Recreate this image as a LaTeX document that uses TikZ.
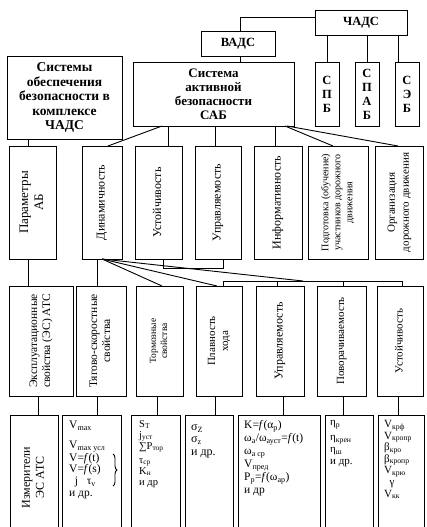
\documentclass[tikz,border=0pt]{standalone}
\usepackage{fontspec}
\setmainfont{Liberation Serif}
\usetikzlibrary{decorations.pathreplacing}
\newcommand{\dn}[1]{\textsubscript{#1}}
\newcommand{\rt}[3]{\rotatebox{90}{\fontsize{#1}{#2}\selectfont\begin{tabular}{@{}c@{}}#3\end{tabular}}}
\begin{document}
\begin{tikzpicture}[x=1pt,y=-1pt,
  box/.style={draw, line width=0.9pt, inner sep=0pt, outer sep=0pt},
  ln/.style={line width=0.9pt},
  hb/.style={font=\fontsize{12.5}{14}\selectfont\bfseries, align=center},
  cell/.style={anchor=north west, align=left, inner sep=0pt, font=\fontsize{11}{11}\selectfont}]
\useasboundingbox[fill=white] (0,0) rectangle (426,527);

% top level
\node[box, hb, minimum width=92pt, minimum height=25pt] (chads) at (361,22.5) {ЧАДС};
\node[box, hb, minimum width=74pt, minimum height=25pt] (vads) at (238,43.5) {ВАДС};
\node[box, hb, font=\fontsize{13}{14}\selectfont\bfseries, minimum width=161pt, minimum height=64pt] (sab) at (213.5,94) {Система\\активной\\безопасности\\САБ};
\node[box, hb, font=\fontsize{13.5}{14.5}\selectfont\bfseries, minimum width=115pt, minimum height=83pt] (sys) at (64.5,97.5) {Системы\\обеспечения\\безопасности в\\комплексе\\ЧАДС};
\node[box, hb, minimum width=24pt, minimum height=64pt] (spb) at (327,94) {С\\П\\Б};
\node[box, hb, minimum width=24pt, minimum height=64pt] (spab) at (367,94) {С\\П\\А\\Б};
\node[box, hb, minimum width=24pt, minimum height=64pt] (seb) at (407,94) {С\\Э\\Б};

\draw[ln] ([yshift=5.5pt]chads.west) -| ([xshift=2pt]vads.north);
\draw[ln] ([xshift=2pt]vads.south) -- ([xshift=2pt]vads.south |- sab.north);
\draw[ln] (spb.north |- chads.south) -- (spb.north);
\draw[ln] (spab.north |- chads.south) -- (spab.north);
\draw[ln] ([xshift=-9pt]seb.north |- chads.south) -- ([xshift=-9pt]seb.north);

% second row
\node[box, minimum width=47pt, minimum height=113pt] (par) at (32.5,202.5) {\rt{13}{15}{Параметры\\АБ}};
\node[box, minimum width=40pt, minimum height=113pt] (din) at (102,202.5) {\rt{12}{13}{Динамичность}};
\node[box, minimum width=47pt, minimum height=113pt] (ust) at (158.5,202.5) {\rt{12}{13}{Устойчивость}};
\node[box, minimum width=46pt, minimum height=113pt] (upr) at (218,202.5) {\rt{12}{13}{Управляемость}};
\node[box, minimum width=48pt, minimum height=113pt] (inf) at (278,202.5) {\rt{12}{13}{Информативность}};
\node[box, minimum width=60pt, minimum height=113pt] (pod) at (338,202.5) {\rt{10}{12}{Подготовка (обучение)\\участников дорожного\\движения}};
\node[box, minimum width=48pt, minimum height=113pt] (org) at (399,202.5) {\rt{11}{14}{Организация\\дорожного движения}};

\draw[ln] ([xshift=-4.5pt]par.north) -- ([xshift=-4.5pt]par.north |- sys.south);
\draw[ln] ([xshift=-51.5pt]sab.south) -- ([xshift=6pt]din.north);
\draw[ln] ([xshift=9.5pt]ust.north |- sab.south) -- ([xshift=9.5pt]ust.north);
\draw[ln] ([xshift=-3pt]upr.north |- sab.south) -- ([xshift=-3pt]upr.north);
\draw[ln] ([xshift=-3pt]inf.north |- sab.south) -- ([xshift=-3pt]inf.north);
\draw[ln] ([xshift=71.5pt]sab.south) -- ([xshift=-5pt]pod.north);
\draw[ln] ([xshift=73.5pt]sab.south) -- ([xshift=-1pt]org.north);

% third row
\node[box, minimum width=64pt, minimum height=110pt] (eks) at (41,341) {\rt{11.5}{13}{Эксплуатационные\\свойства (ЭС) АТС}};
\node[box, minimum width=50pt, minimum height=110pt] (tyag) at (101,341) {\rt{11.5}{13}{Тягово-скоростные\\свойства}};
\node[box, minimum width=47pt, minimum height=110pt] (torm) at (159.5,341) {\rt{9.5}{11}{Тормозные\\свойства}};
\node[box, minimum width=46pt, minimum height=110pt] (plav) at (219,341) {\rt{11}{13}{Плавность\\хода}};
\node[box, minimum width=48pt, minimum height=110pt] (upr3) at (280,341) {\rt{12}{13}{Управляемость}};
\node[box, minimum width=49pt, minimum height=110pt] (pov) at (341.5,341) {\rt{11}{13}{Поворачиваемость}};
\node[box, minimum width=46pt, minimum height=110pt] (ust3) at (400,341) {\rt{11}{13}{Устойчивость}};

\coordinate (brk) at (0,268);
\coordinate (busy) at (0,281);
\coordinate (busj) at (303,281);
\draw[ln] ([xshift=-4.5pt]par.south) -- ([xshift=-4.5pt]par.south |- eks.north);
\draw[ln] ([xshift=-5pt]din.south) -- ([xshift=-5pt]din.south |- tyag.north);
\draw[ln] (din.south) -- ([xshift=2.5pt]torm.north);
\draw[ln] (din.south) -- ([xshift=-2pt]plav.north);
\draw[ln] (din.south) -- (busj);
\draw[ln] ([xshift=4.5pt]ust.south) |- ([xshift=5pt]upr.south |- brk) -- ([xshift=5pt]upr.south);
\draw[ln] ([xshift=4pt]plav.north) |- ([xshift=2pt]ust3.north |- busy) -- ([xshift=2pt]ust3.north);
\draw[ln] ([xshift=-3pt]upr3.north |- busy) -- ([xshift=-3pt]upr3.north);
\draw[ln] ([xshift=1.5pt]pov.north |- busy) -- ([xshift=1.5pt]pov.north);

% fourth row
\node[box, minimum width=48pt, minimum height=125pt] (izm) at (34,477.5) {\rt{12}{14}{Измерители\\ЭС АТС}};
\node[box, minimum width=59pt, minimum height=125pt] (vb) at (91.5,477.5) {};
\node[box, minimum width=49pt, minimum height=125pt] (sb) at (155.5,477.5) {};
\node[box, minimum width=48pt, minimum height=125pt] (sig) at (209,477.5) {};
\node[box, minimum width=82pt, minimum height=125pt] (kb) at (279,477.5) {};
\node[box, minimum width=48pt, minimum height=125pt] (eta) at (349,477.5) {};
\node[box, minimum width=46pt, minimum height=125pt] (vv) at (401,477.5) {};

\draw[ln] ([xshift=-3pt]eks.south) -- ([xshift=-3pt]eks.south |- izm.north);
\draw[ln] ([xshift=-4pt]tyag.south) -- ([xshift=-4pt]tyag.south |- vb.north);
\draw[ln] ([xshift=-2.5pt]torm.south) -- ([xshift=-2.5pt]torm.south |- sb.north);
\draw[ln] ([xshift=-4pt]plav.south) -- ([xshift=-4pt]plav.south |- sig.north);
\draw[ln] ([xshift=3pt]upr3.south) -- ([xshift=3pt]upr3.south |- kb.north);
\draw[ln] ([xshift=1.5pt]pov.south) -- ([xshift=1.5pt]pov.south |- eta.north);
\draw[ln] ([xshift=-2pt]ust3.south) -- ([xshift=-2pt]ust3.south |- vv.north);

\node[cell, font=\fontsize{11.5}{11}\selectfont] (vt) at (69,421) {V\dn{max}\\[9pt]V\dn{max усл}\\V=\textit{f}(t)\\V=\textit{f}(s)\\[1pt]\ \ j\ \ \ τ\dn{v}\\[1pt]и др.};
\draw[ln, decorate, decoration={brace, amplitude=4pt}] (113,454) -- (113,486);
\node[cell, font=\fontsize{10.5}{11}\selectfont] (st) at (139,420) {S\dn{T}\\j\dn{уст}\\∑P\dn{тор}\\[3pt]τ\dn{ср}\\K\dn{н}\\и др};
\node[cell, font=\fontsize{12}{12.5}\selectfont] (sgt) at (191,424) {σ\dn{Z}\\σ\dn{z}\\и др.};
\node[cell, font=\fontsize{11.5}{13}\selectfont] (kt) at (244,420) {K=\textit{f}(α\dn{p})\\ω\dn{a}/ω\dn{ауст}=\textit{f}(t)\\ω\dn{a ср}\\V\dn{пред}\\P\dn{p}=\textit{f}(ω\dn{ар})\\и др};
\node[cell, font=\fontsize{11}{12}\selectfont] (et) at (330,420) {η\dn{p}\\[3pt]η\dn{крен}\\η\dn{ш}\\и др.};
\node[cell, font=\fontsize{11}{11.6}\selectfont] (vvt) at (384,420) {V\dn{крф}\\V\dn{кропр}\\β\dn{кро}\\β\dn{кропр}\\V\dn{крю}\\\ \ γ\\V\dn{кк}};
\end{tikzpicture}
\end{document}
